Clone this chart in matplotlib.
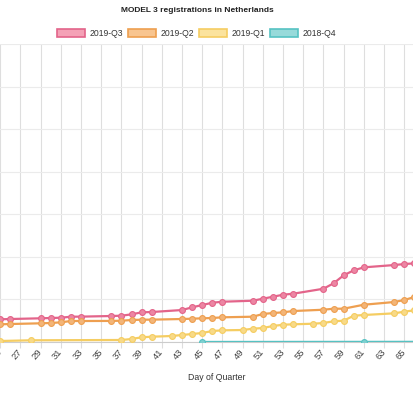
import matplotlib
matplotlib.use("Agg")
import matplotlib.pyplot as plt
from matplotlib.patches import Patch

# days of quarter and cumulative registrations
q3_days = [25, 26, 29, 30, 31, 32, 33, 36, 37, 38, 39, 40, 43, 44, 45, 46, 47,
           50, 51, 52, 53, 54, 57, 58, 59, 60, 61, 64, 65, 66]
q3_vals = [1066, 1080, 1113, 1127, 1141, 1188, 1192, 1221, 1235, 1300, 1394, 1409,
           1502, 1629, 1737, 1845, 1892, 1939, 2033, 2127, 2221, 2268, 2502, 2756,
           3131, 3366, 3507, 3615, 3662, 3695]

q2_days = [25, 26, 29, 30, 31, 32, 33, 36, 37, 38, 39, 40, 43, 44, 45, 46, 47,
           50, 51, 52, 53, 54, 57, 58, 59, 61, 64, 65, 66]
q2_vals = [831, 845, 878, 892, 925, 986, 986, 990, 1000, 1033, 1047, 1050, 1080,
           1094, 1113, 1127, 1160, 1188, 1315, 1362, 1394, 1455, 1516, 1563, 1565,
           1751, 1878, 1972, 2113]

q1_days = [25, 28, 37, 38, 39, 40, 42, 43, 44, 45, 46, 47, 49, 50, 51, 52, 53,
           54, 56, 57, 58, 59, 60, 61, 64, 65, 66]
q1_vals = [47, 80, 94, 141, 221, 249, 282, 329, 376, 423, 516, 549, 563, 624, 657,
           751, 812, 831, 859, 892, 972, 1000, 1235, 1268, 1347, 1423, 1488]

q4_days = [45, 61, 77]
q4_vals = [2, 6, 10]

series = [
    ("2019-Q3", q3_days, q3_vals, "#e3648a", "#ec86a3"),
    ("2019-Q2", q2_days, q2_vals, "#ee9f50", "#f3b578"),
    ("2019-Q1", q1_days, q1_vals, "#f5cd62", "#f8da88"),
    ("2018-Q4", q4_days, q4_vals, "#56c2c2", "#7fd0d0"),
]
legend_fill = ["#f4a1b6", "#f8c590", "#fbe39e", "#97dada"]

plt.rcParams["font.family"] = ["Liberation Sans", "DejaVu Sans"]

fig = plt.figure(figsize=(4.14, 3.99), dpi=100)
ax = fig.add_axes([0, 57 / 399, 1, 298 / 399])

for name, d, v, c, fc in series:
    ax.plot(d, v, color=c, lw=1.6, marker="o", ms=4.2, mfc=fc, mec=c, mew=0.8,
            zorder=3, clip_on=True)

ax.set_xlim(24.97, 65.97)
ax.set_ylim(0, 14000)
ax.set_xticks(range(25, 67, 2))
ax.set_xticklabels([str(t) for t in range(25, 67, 2)], rotation=50,
                   ha="right", va="center", rotation_mode="anchor", fontsize=6.8,
                   color="#444444")
ax.set_yticks(range(0, 14001, 2000))
ax.tick_params(axis="y", left=False, labelleft=False)
ax.tick_params(axis="x", length=4, color="#dddddd", pad=2)
ax.grid(axis="x", color="#dedede", lw=0.8)
ax.grid(axis="y", color="#ebebeb", lw=0.8)
for s in ["left", "right", "top"]:
    ax.spines[s].set_visible(False)
ax.spines["bottom"].set_color("#cccccc")

fig.text(217 / 414, 1 - 378 / 399, "Day of Quarter", ha="center", va="center",
         fontsize=6.3, color="#333333")
fig.text(197 / 414, 1 - 11 / 399, "MODEL 3 registrations in Netherlands",
         ha="center", va="center", fontsize=6.0, fontweight="bold", color="#222222")

handles = [Patch(facecolor=f, edgecolor=s[3], lw=1.2)
           for f, s in zip(legend_fill, series)]
fig.legend(handles, [s[0] for s in series], loc="center", ncol=4,
           bbox_to_anchor=(196.5 / 414, 1 - 33.5 / 399), frameon=False,
           fontsize=6.2, handlelength=3.3, handleheight=1.0, handletextpad=0.45,
           columnspacing=0.6, labelcolor="#333333")

fig.savefig("out.png", dpi=100)
